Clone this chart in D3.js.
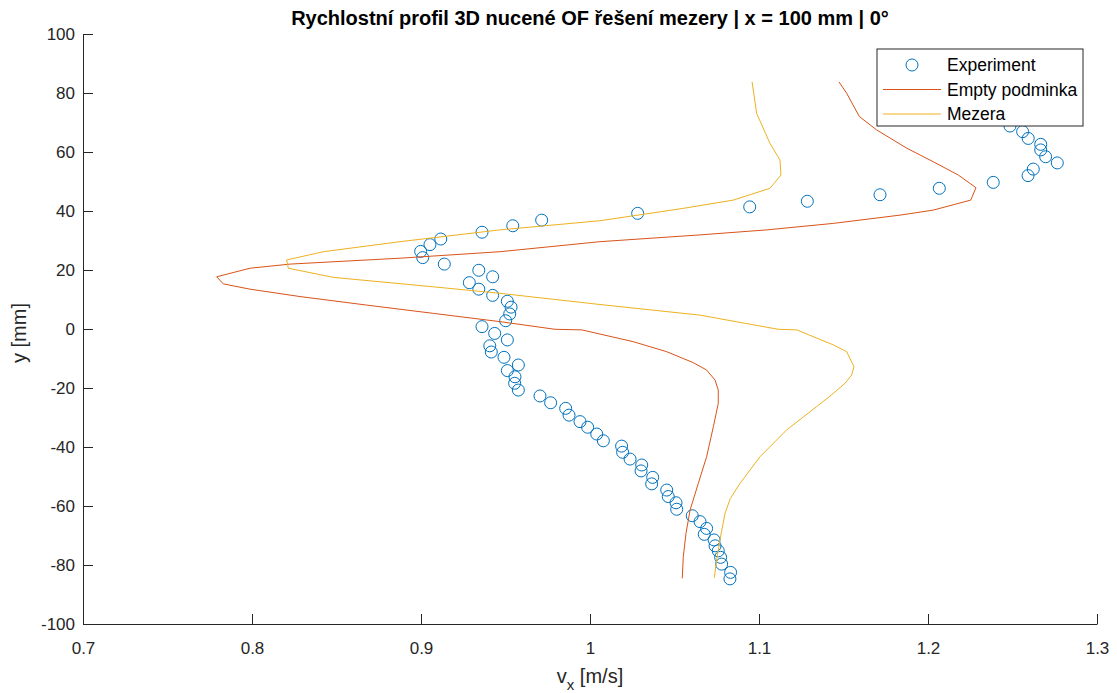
<!DOCTYPE html>
<html>
<head>
<meta charset="utf-8">
<script src="https://cdn.jsdelivr.net/npm/d3@7"></script>
<style>
  body { margin: 0; background: #fff; }
  svg { font-family: "Liberation Sans", Arial, sans-serif; }
</style>
</head>
<body>
<svg id="drawing_region"></svg>
<script>
// experiment: [vx, y]
const expVx = [1.2485,1.2560,1.2593,1.2667,1.2667,1.2696,1.2765,1.2623,1.2592,1.2386,1.2067,1.1716,1.1286,1.0945,1.0282,
  0.9714,0.9543,0.9361,0.9117,0.9053,0.8998,0.9010,0.9138,0.9424,0.9342,0.9286,0.9342,0.9424,0.9511,0.9533,0.9525,0.9501,
  0.9361,0.9436,0.9511,0.9407,0.9416,0.9491,0.9576,0.9511,0.9556,0.9554,0.9576,0.9704,0.9767,0.9856,0.9876,0.9941,0.9986,
  1.0040,1.0079,1.0187,1.0193,1.0237,1.0306,1.0302,1.0371,1.0365,1.0454,1.0463,1.0509,1.0513,1.0605,1.0651,1.0690,1.0676,
  1.0734,1.0740,1.0759,1.0773,1.0779,1.0832,1.0828];
const expY = [68.8,66.9,64.6,62.6,60.7,58.4,56.3,54.2,52.0,49.7,47.7,45.5,43.3,41.4,39.2,
  36.9,35.0,32.8,30.5,28.6,26.3,24.2,22.0,17.7,19.9,15.7,13.5,11.4,9.4,7.4,5.1,2.8,
  0.8,-1.5,-3.7,-5.7,-7.8,-9.6,-12.2,-14.1,-16.2,-18.4,-20.7,-22.7,-25.0,-26.9,-29.2,-31.4,-33.3,
  -35.6,-37.9,-39.7,-41.8,-44.1,-46.1,-48.1,-50.3,-52.5,-54.6,-56.8,-58.9,-61.1,-63.3,-65.3,-67.6,-69.6,
  -71.5,-73.5,-75.2,-77.4,-79.7,-82.5,-84.7];

// Empty podminka
const emptyVx = [1.1473,1.1519,1.1594,1.1696,1.1874,1.2031,1.2179,1.2284,1.2253,1.2031,1.1834,1.1440,1.1046,1.0651,1.0059,
  0.9467,0.8876,0.8225,0.7988,0.7791,0.7830,0.7988,0.8284,0.8679,0.9073,0.9467,0.9793,0.9951,1.0256,1.0454,1.0611,1.0690,
  1.0740,1.0759,1.0759,1.0745,1.0730,1.0690,1.0641,1.0592,1.0568,1.0552,1.0546];
const emptyY = [83.8,79.9,72.0,67.5,61.3,56.7,52.2,47.9,43.7,40.3,38.6,35.8,33.6,31.9,29.6,
  26.2,24.0,22.0,20.6,17.7,15.3,13.5,11.0,8.1,5.3,2.5,-0.1,-0.3,-4.3,-7.7,-11.4,-13.9,
  -17.3,-20.7,-25.2,-29.0,-33.1,-43.3,-52.3,-61.4,-69.3,-77.2,-84.5];

// Mezera
const mezVx = [1.0959,1.0986,1.1065,1.1124,1.1130,1.1065,1.0848,1.0552,1.0059,0.9467,0.8876,0.8422,0.8205,0.8215,0.8481,
  0.9073,0.9467,1.0059,1.0651,1.1114,1.1223,1.1440,1.1519,1.1562,1.1548,1.1509,1.1430,1.1341,1.1164,1.1006,1.0888,1.0830,
  1.0799,1.0769,1.0749,1.0736];
const mezY = [83.8,73.1,62.9,57.3,52.2,47.7,43.7,40.9,36.7,33.6,29.6,26.2,23.4,20.6,17.5,
  14.3,12.1,8.3,4.7,-0.1,-0.3,-5.4,-7.7,-12.8,-15.6,-18.4,-22.3,-26.3,-34.2,-43.3,-52.3,-57.5,
  -62.5,-71.5,-78.3,-84.3];

const xTicks = [0.7,0.8,0.9,1,1.1,1.2,1.3];
const yTicks = [-100,-80,-60,-40,-20,0,20,40,60,80,100];
const legendLabels = ["Experiment", "Empty podminka", "Mezera"];
const colors = ["#0072BD", "#D95319", "#EDB120"];

const W = 1117, H = 693;
const margin = {top: 34, right: 20, bottom: 69, left: 83};
const svg = d3.select("#drawing_region").attr("width", W).attr("height", H);
const iw = 1097 - margin.left, ih = 624 - margin.top;
const g = svg.append("g").attr("transform", `translate(${margin.left},${margin.top})`);

const x = d3.scaleLinear().domain([0.7, 1.3]).range([0, iw]);
const y = d3.scaleLinear().domain([-100, 100]).range([ih, 0]);
const axisCol = "#262626";

// axes, ticks pointing inward
const xa = g.append("g").attr("transform", `translate(0,${ih})`)
  .call(d3.axisBottom(x).tickValues(xTicks).tickFormat(d => String(d)).tickSizeInner(-10).tickSizeOuter(0).tickPadding(18));
const ya = g.append("g")
  .call(d3.axisLeft(y).tickValues(yTicks).tickFormat(d => String(d)).tickSizeInner(-10).tickSizeOuter(0).tickPadding(8));
[xa, ya].forEach(a => {
  a.selectAll("path, line").attr("stroke", axisCol).attr("stroke-width", 1);
  a.selectAll("text").attr("fill", axisCol).style("font-size", "17px");
});

const line = d3.line().x(d => x(d[0])).y(d => y(d[1]));
const emptyData = emptyVx.map((v, i) => [v, emptyY[i]]);
const mezData = mezVx.map((v, i) => [v, mezY[i]]);
const expData = expVx.map((v, i) => [v, expY[i]]);

g.selectAll("circle.exp").data(expData).enter().append("circle")
  .attr("class", "exp")
  .attr("cx", d => x(d[0])).attr("cy", d => y(d[1])).attr("r", 6)
  .attr("fill", "none").attr("stroke", colors[0]).attr("stroke-width", 1);

g.append("path").datum(emptyData).attr("d", line)
  .attr("fill", "none").attr("stroke", colors[1]).attr("stroke-width", 1);
g.append("path").datum(mezData).attr("d", line)
  .attr("fill", "none").attr("stroke", colors[2]).attr("stroke-width", 1);

// title & labels
svg.append("text").attr("x", margin.left + iw / 2).attr("y", 25)
  .attr("text-anchor", "middle").style("font-size", "20px").style("font-weight", "bold")
  .attr("fill", "#000").text("Rychlostní profil 3D nucené OF řešení mezery | x = 100 mm | 0°");

const xl = svg.append("text").attr("x", margin.left + iw / 2).attr("y", 683)
  .attr("text-anchor", "middle").style("font-size", "20px").attr("fill", axisCol);
xl.append("tspan").text("v");
xl.append("tspan").attr("dy", 7).style("font-size", "15px").text("x");
xl.append("tspan").attr("dy", -7).text(" [m/s]");

svg.append("text").attr("transform", `translate(26,333) rotate(-90)`)
  .attr("text-anchor", "middle").style("font-size", "20px").attr("fill", axisCol).text("y [mm]");

// legend
const lg = svg.append("g").attr("transform", "translate(877,49)");
lg.append("rect").attr("width", 206).attr("height", 77)
  .attr("fill", "#fff").attr("stroke", axisCol).attr("stroke-width", 1);
legendLabels.forEach((lab, i) => {
  const yy = 16 + i * 24.5;
  if (i === 0) {
    lg.append("circle").attr("cx", 35).attr("cy", yy).attr("r", 6)
      .attr("fill", "none").attr("stroke", colors[0]);
  } else {
    lg.append("line").attr("x1", 6).attr("x2", 64).attr("y1", yy).attr("y2", yy)
      .attr("stroke", colors[i]).attr("stroke-width", 1);
  }
  lg.append("text").attr("x", 70).attr("y", yy + 6).style("font-size", "17.5px")
    .attr("fill", "#000").text(lab);
});
</script>
</body>
</html>
